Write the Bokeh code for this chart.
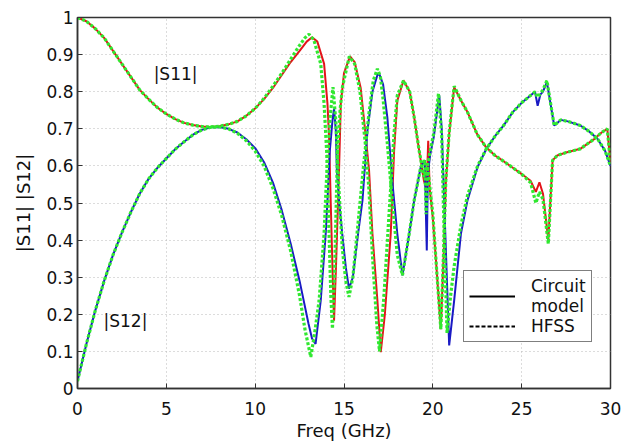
from bokeh.plotting import figure
from bokeh.models import Legend, LegendItem, Label, FixedTicker, Range1d
from bokeh.embed import file_html
from bokeh.resources import INLINE

# ---- data ----
x_ticks = [0, 5, 10, 15, 20, 25, 30]
y_ticks = [0, 0.1, 0.2, 0.3, 0.4, 0.5, 0.6, 0.7, 0.8, 0.9, 1.0]
y_tick_labels = ["0", "0.1", "0.2", "0.3", "0.4", "0.5", "0.6", "0.7", "0.8", "0.9", "1"]

# |S11| circuit model
s11_x = [0, 0.5, 1, 1.5, 2, 2.5, 3, 3.5, 4, 4.5, 5, 5.5, 6, 6.5, 7, 7.5, 8, 8.5, 9, 9.5,
         10, 10.5, 11, 11.5, 12, 12.5, 12.9, 13.2, 13.5, 13.88, 14.07, 14.16, 14.25, 14.35,
         14.44, 14.55, 14.72, 14.82, 15.0, 15.34, 15.6, 15.94, 16.23, 16.41, 16.6, 16.88,
         17.07, 17.3, 17.63, 17.82, 18.0, 18.35, 18.7, 18.95, 19.23, 19.5, 19.65, 19.74,
         19.82, 20.0, 20.2, 20.45, 20.6, 20.73, 20.92, 21.2, 21.6, 21.95, 22.5, 23, 23.5,
         24, 24.5, 25, 25.5, 25.8, 26.0, 26.2, 26.5, 26.74, 27.0, 27.5, 28.3, 29.1, 29.5,
         29.82, 30]
s11_y = [1.0, 0.99, 0.97, 0.945, 0.91, 0.875, 0.84, 0.805, 0.78, 0.757, 0.74, 0.726, 0.716,
         0.71, 0.706, 0.705, 0.707, 0.712, 0.72, 0.735, 0.755, 0.78, 0.81, 0.845, 0.88,
         0.91, 0.935, 0.947, 0.935, 0.875, 0.767, 0.677, 0.507, 0.327, 0.183, 0.33, 0.588,
         0.767, 0.85, 0.895, 0.88, 0.81, 0.677, 0.588, 0.417, 0.237, 0.098, 0.2, 0.417,
         0.64, 0.776, 0.83, 0.8, 0.731, 0.641, 0.56, 0.535, 0.668, 0.54, 0.46, 0.33, 0.16,
         0.35, 0.552, 0.686, 0.812, 0.775, 0.745, 0.685, 0.65, 0.628, 0.612, 0.595, 0.578,
         0.56, 0.53, 0.556, 0.525, 0.4, 0.615, 0.628, 0.636, 0.646, 0.673, 0.69, 0.70, 0.607]

# |S12| circuit model
s12_x = [0, 0.5, 1, 1.5, 2, 2.5, 3, 3.5, 4, 4.5, 5, 5.5, 6, 6.5, 7, 7.5, 8, 8.5, 9, 9.5,
         10, 10.5, 11, 11.5, 12, 12.5, 13, 13.2, 13.4, 13.69, 13.97, 14.07, 14.2, 14.35,
         14.44, 14.54, 14.6, 14.72, 14.9, 15.1, 15.28, 15.5, 15.8, 16.04, 16.32, 16.6,
         16.88, 17.0, 17.2, 17.44, 17.73, 18.0, 18.29, 18.67, 18.95, 19.32, 19.55, 19.62,
         19.66, 19.72, 19.85, 20.06, 20.36, 20.5, 20.7, 20.92, 21.2, 21.58, 21.95, 22.52,
         23, 23.5, 24, 24.5, 25, 25.5, 25.75, 25.9, 26.05, 26.2, 26.42, 26.83, 27.2, 27.6,
         28.3, 28.8, 29.27, 29.7, 30]
s12_y = [0.02, 0.12, 0.21, 0.29, 0.36, 0.42, 0.475, 0.525, 0.565, 0.595, 0.62, 0.645,
         0.665, 0.684, 0.697, 0.704, 0.705, 0.7, 0.69, 0.672, 0.648, 0.61, 0.555, 0.48,
         0.39, 0.29, 0.175, 0.135, 0.12, 0.237, 0.417, 0.507, 0.64, 0.722, 0.754, 0.695,
         0.587, 0.507, 0.417, 0.327, 0.269, 0.3, 0.42, 0.507, 0.695, 0.8, 0.845, 0.846,
         0.82, 0.731, 0.552, 0.417, 0.305, 0.417, 0.507, 0.597, 0.615, 0.45, 0.372, 0.58,
         0.63, 0.68, 0.79, 0.7, 0.42, 0.116, 0.237, 0.417, 0.507, 0.597, 0.645, 0.68, 0.71,
         0.745, 0.77, 0.79, 0.80, 0.762, 0.792, 0.8, 0.826, 0.709, 0.724, 0.72, 0.709,
         0.693, 0.673, 0.64, 0.6]

# |S11| HFSS
h11_x = [0, 0.5, 1, 1.5, 2, 2.5, 3, 3.5, 4, 4.5, 5, 5.5, 6, 6.5, 7, 7.5, 8, 8.5, 9, 9.5,
         10, 10.5, 11, 11.5, 12, 12.5, 12.8, 13.03, 13.3, 13.69, 13.88, 14.03, 14.16, 14.26,
         14.35, 14.48, 14.63, 14.78, 14.91, 15.3, 15.6, 15.9, 16.2, 16.4, 16.6, 16.85, 17.0,
         17.25, 17.6, 17.82, 18.0, 18.35, 18.7, 18.95, 19.23, 19.5, 19.7, 20.0, 20.2, 20.45,
         20.6, 20.73, 20.92, 21.2, 21.6, 21.95, 22.5, 23, 23.5, 24, 24.5, 25, 25.5, 25.8,
         26.0, 26.2, 26.5, 26.74, 27.0, 27.5, 28.3, 29.1, 29.5, 29.82, 30]
h11_y = [1.0, 0.99, 0.97, 0.945, 0.91, 0.875, 0.84, 0.805, 0.78, 0.757, 0.74, 0.726, 0.716,
         0.71, 0.706, 0.705, 0.707, 0.712, 0.72, 0.735, 0.755, 0.782, 0.815, 0.85, 0.888,
         0.925, 0.945, 0.955, 0.94, 0.875, 0.767, 0.633, 0.417, 0.25, 0.161, 0.33, 0.633,
         0.75, 0.812, 0.895, 0.875, 0.8, 0.66, 0.54, 0.36, 0.17, 0.1, 0.25, 0.52, 0.69,
         0.79, 0.83, 0.8, 0.731, 0.641, 0.57, 0.6, 0.47, 0.33, 0.16, 0.36, 0.56, 0.69,
         0.815, 0.775, 0.745, 0.685, 0.65, 0.628, 0.612, 0.595, 0.578, 0.555, 0.5, 0.53,
         0.51, 0.39, 0.615, 0.628, 0.636, 0.646, 0.673, 0.69, 0.70, 0.607]

# |S12| HFSS
h12_x = [0, 0.5, 1, 1.5, 2, 2.5, 3, 3.5, 4, 4.5, 5, 5.5, 6, 6.5, 7, 7.5, 8, 8.5, 9, 9.5,
         10, 10.5, 11, 11.5, 12, 12.5, 12.8, 13.13, 13.35, 13.6, 13.88, 14.0, 14.2, 14.38,
         14.54, 14.7, 14.9, 15.1, 15.28, 15.5, 15.8, 16.1, 16.4, 16.65, 16.88, 17.05, 17.2,
         17.44, 17.73, 18.0, 18.29, 18.67, 18.95, 19.32, 19.55, 19.62, 19.7, 19.85, 20.06,
         20.32, 20.5, 20.62, 20.8, 21.0, 21.2, 21.58, 21.95, 22.52, 23, 23.5, 24, 24.5, 25,
         25.5, 25.75, 25.9, 26.05, 26.2, 26.42, 26.83, 27.2, 27.6, 28.3, 28.8, 29.27, 29.7,
         30]
h12_y = [0.02, 0.12, 0.21, 0.29, 0.36, 0.42, 0.475, 0.525, 0.565, 0.595, 0.62, 0.645,
         0.665, 0.684, 0.697, 0.704, 0.705, 0.7, 0.688, 0.668, 0.64, 0.6, 0.54, 0.465,
         0.37, 0.25, 0.16, 0.085, 0.15, 0.237, 0.417, 0.55, 0.72, 0.812, 0.72, 0.55, 0.38,
         0.29, 0.247, 0.3, 0.45, 0.6, 0.74, 0.83, 0.862, 0.84, 0.78, 0.66, 0.5, 0.36,
         0.305, 0.417, 0.507, 0.597, 0.615, 0.47, 0.6, 0.64, 0.69, 0.795, 0.68, 0.45, 0.15,
         0.25, 0.33, 0.44, 0.52, 0.6, 0.645, 0.68, 0.71, 0.745, 0.77, 0.79, 0.80, 0.785,
         0.795, 0.805, 0.83, 0.709, 0.724, 0.72, 0.709, 0.693, 0.673, 0.64, 0.6]

label_s11 = "|S11|"
label_s12 = "|S12|"
legend_labels = ["Circuit\nmodel", "HFSS"]

FONT = "DejaVu Sans"
NAN = float("nan")

p = figure(width=623, height=444, output_backend="svg", toolbar_location=None,
           x_range=Range1d(0, 30), y_range=Range1d(0, 1),
           frame_width=533, frame_height=371,
           min_border_left=77, min_border_right=13, min_border_top=17, min_border_bottom=56)
p.background_fill_color = "white"
p.border_fill_color = "white"
p.outline_line_color = "#333333"
p.outline_line_width = 1.5

red = "#e3141a"
blue = "#1a1ac4"
green = "#30e830"

p.line(s11_x, s11_y, line_color=red, line_width=2)
p.line(s12_x, s12_y, line_color=blue, line_width=2)
p.line(h11_x, h11_y, line_color=green, line_width=3.2, line_dash="3 2")
p.line(h12_x, h12_y, line_color=green, line_width=3.2, line_dash="3 2")

# legend (placeholder renderers carry the black styles)
r_solid = p.line([NAN], [NAN], line_color="black", line_width=1.8)
r_dash = p.line([NAN], [NAN], line_color="black", line_width=1.8, line_dash="4 2")
legend = Legend(items=[LegendItem(label=legend_labels[0], renderers=[r_solid]),
                       LegendItem(label=legend_labels[1], renderers=[r_dash])],
                location=(386, 46), orientation="vertical")
legend.border_line_color = "black"
legend.border_line_width = 1.2
legend.background_fill_color = "white"
legend.background_fill_alpha = 1
legend.label_text_font = FONT
legend.label_text_font_size = "17px"
legend.label_text_line_height = 1.15
legend.label_text_color = "#111111"
legend.glyph_width = 46
legend.label_standoff = 16
legend.padding = 5
legend.spacing = 0
legend.margin = 0
p.add_layout(legend, "center")

# text labels inside the plot
p.add_layout(Label(x=5.52, y=0.849, text=label_s11, text_align="center", text_baseline="middle",
                   text_font=FONT, text_font_size="17px", text_color="#111111"))
p.add_layout(Label(x=2.7, y=0.183, text=label_s12, text_align="center", text_baseline="middle",
                   text_font=FONT, text_font_size="17px", text_color="#111111"))

# axes
p.xaxis.ticker = FixedTicker(ticks=x_ticks)
p.yaxis.ticker = FixedTicker(ticks=y_ticks)
p.yaxis.major_label_overrides = {t: s for t, s in zip(y_ticks, y_tick_labels)}
p.xaxis.axis_label = "Freq (GHz)"
p.yaxis.axis_label = "|S11| |S12|"
for ax in (p.xaxis, p.yaxis):
    ax.axis_label_text_font = FONT
    ax.axis_label_text_font_size = "18px"
    ax.axis_label_text_font_style = "normal"
    ax.axis_label_text_color = "#111111"
    ax.major_label_text_font = FONT
    ax.major_label_text_font_size = "17px"
    ax.major_label_text_color = "#111111"
    ax.axis_line_color = "#333333"
    ax.axis_line_width = 1.5
    ax.major_tick_in = 5
    ax.major_tick_out = 0
    ax.major_tick_line_color = "#333333"
    ax.minor_tick_line_color = None
p.xaxis.major_label_standoff = 13
p.xaxis.axis_label_standoff = 2
p.yaxis.major_label_standoff = 4
p.yaxis.axis_label_standoff = 9

p.grid.grid_line_color = "#b8b8b8"
p.grid.grid_line_dash = "1 3"
p.grid.grid_line_width = 1

open("out.html", "w").write(file_html(p, INLINE))
